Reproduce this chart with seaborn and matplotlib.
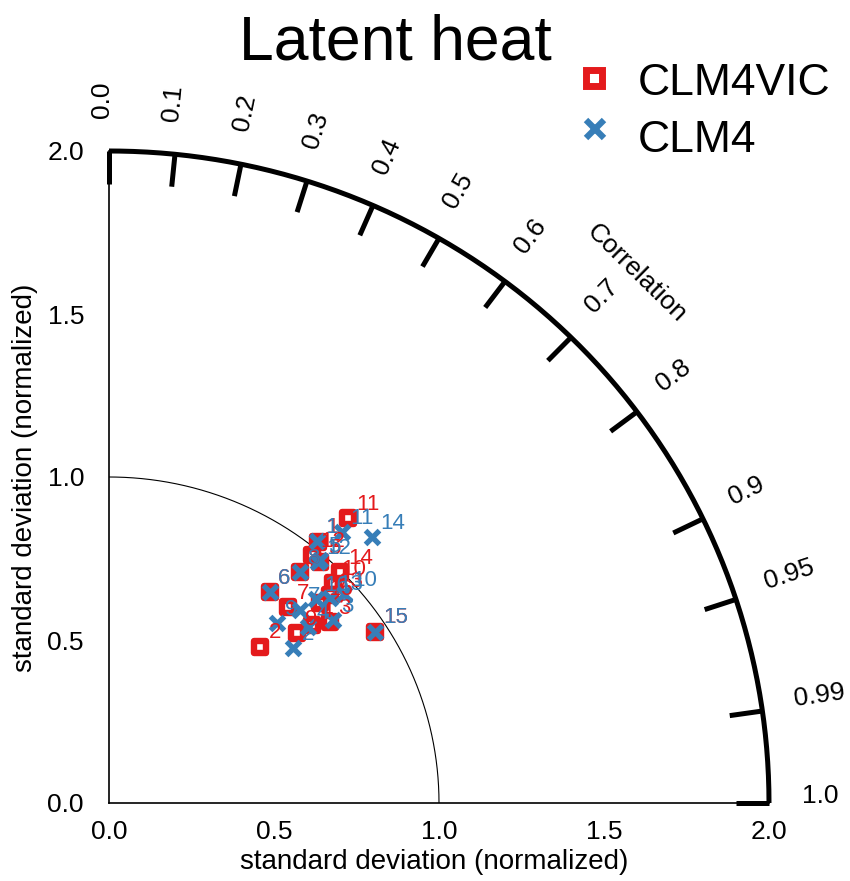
import numpy as np
import pandas as pd
import matplotlib
matplotlib.use("Agg")
import matplotlib.pyplot as plt
from matplotlib.lines import Line2D
import seaborn as sns

# Site numbers and normalized statistics for the two model versions
sites = list(range(1, 17))
vic_std = [1.021, 0.663, 0.870, 0.822, 0.977, 0.810, 0.810, 0.915,
           0.772, 0.957, 1.135, 0.978, 0.925, 0.996, 0.962, 0.886]
vic_corr = [0.620, 0.691, 0.770, 0.748, 0.654, 0.602, 0.670, 0.633,
            0.738, 0.709, 0.638, 0.629, 0.724, 0.703, 0.838, 0.722]
clm_std = [1.021, 0.733, 0.881, 0.809, 0.982, 0.810, 0.828, 0.915,
           0.751, 0.958, 1.090, 0.973, 0.919, 1.141, 0.962, 0.886]
clm_corr = [0.617, 0.761, 0.771, 0.745, 0.651, 0.602, 0.699, 0.633,
            0.678, 0.743, 0.648, 0.651, 0.729, 0.699, 0.838, 0.708]

corr_marks = [0.0, 0.1, 0.2, 0.3, 0.4, 0.5, 0.6, 0.7, 0.8, 0.9, 0.95, 0.99, 1.0]
std_ticks = [0.0, 0.5, 1.0, 1.5, 2.0]
std_labels = ["0.0", "0.5", "1.0", "1.5", "2.0"]

RED = "#e41a1c"
BLUE = "#377eb8"
STD_MAX = 2.0

sns.set_theme(style="white")
plt.rcParams["font.family"] = ["Liberation Sans", "DejaVu Sans"]


def polar_xy(std, corr):
    std = np.asarray(std, dtype=float)
    corr = np.asarray(corr, dtype=float)
    return std * corr, std * np.sqrt(1.0 - corr ** 2)


vx, vy = polar_xy(vic_std, vic_corr)
cx, cy = polar_xy(clm_std, clm_corr)
df_vic = pd.DataFrame({"site": sites, "x": vx, "y": vy})
df_clm = pd.DataFrame({"site": sites, "x": cx, "y": cy})

W, H = 850, 881
fig = plt.figure(figsize=(W / 100, H / 100), dpi=100)
ax = fig.add_axes([109 / W, 78 / H, 660 / W, 652 / H])
ax.set_xlim(0, STD_MAX)
ax.set_ylim(0, STD_MAX)
ax.set_facecolor("white")

# axes frame: only the two straight edges
for side in ("top", "right"):
    ax.spines[side].set_visible(False)
for side in ("left", "bottom"):
    ax.spines[side].set_color("black")
    ax.spines[side].set_linewidth(1.2)

ax.set_xticks(std_ticks)
ax.set_xticklabels(std_labels)
ax.set_yticks(std_ticks)
ax.set_yticklabels(std_labels)
ax.tick_params(axis="x", direction="in", length=5, width=1, pad=12,
               labelsize=19, colors="black")
ax.tick_params(axis="y", direction="out", length=5, width=1, pad=13,
               labelsize=19, colors="black")
ax.grid(False)

# outer correlation arc and reference std = 1 arc
th = np.linspace(0, np.pi / 2, 300)
ax.plot(STD_MAX * np.cos(th), STD_MAX * np.sin(th), color="black", lw=3.6,
        clip_on=False, solid_capstyle="butt", zorder=3)
ax.plot(np.cos(th), np.sin(th), color="black", lw=0.8, zorder=1)

# correlation ticks and labels
for c in corr_marks:
    t = np.arccos(c)
    ax.plot([1.9 * np.cos(t), STD_MAX * np.cos(t)],
            [1.9 * np.sin(t), STD_MAX * np.sin(t)],
            color="black", lw=3.6, solid_capstyle="butt", clip_on=False, zorder=3)
    lab = f"{c:.1f}" if abs(round(c, 1) - c) < 1e-9 else f"{c:.2f}"
    ax.text(2.1 * np.cos(t), 2.1 * np.sin(t), lab, rotation=np.degrees(t),
            rotation_mode="anchor", ha="left", va="baseline", fontsize=19,
            color="black", clip_on=False)

tc = np.radians(45.5)
ax.text(2.28 * np.cos(tc), 2.28 * np.sin(tc), "Correlation",
        rotation=np.degrees(tc) - 90, rotation_mode="anchor",
        ha="center", va="center", fontsize=19, color="black")

# model points
sns.scatterplot(data=df_vic, x="x", y="y", ax=ax, marker="s", s=72,
                color="white", edgecolor=RED, linewidth=4.6, zorder=4,
                legend=False, clip_on=False)
sns.scatterplot(data=df_clm, x="x", y="y", ax=ax, marker="x", s=100,
                color=BLUE, linewidth=3.8, zorder=5, legend=False, clip_on=False)

for d, col, z in ((df_vic, RED, 6), (df_clm, BLUE, 7)):
    for _, row in d.iterrows():
        ax.annotate(str(int(row["site"])), (row["x"], row["y"]),
                    xytext=(6, 10), textcoords="offset points",
                    ha="left", va="center", fontsize=16, color=col, zorder=z)

ax.set_xlabel("")
ax.set_ylabel("")
fig.text(434 / W, 1 - 862 / H, "standard deviation (normalized)",
         ha="center", va="center", fontsize=20, color="black")
fig.text(25 / W, 1 - 478 / H, "standard deviation (normalized)",
         ha="center", va="center", rotation=90, fontsize=20, color="black")

# title and legend
fig.text(395 / W, 1 - 60 / H, "Latent heat", ha="center", va="baseline",
         fontsize=45, color="black")
fig.add_artist(Line2D([594 / W], [1 - 78 / H], marker="s", ms=12, mew=5,
                      mec=RED, mfc="white", transform=fig.transFigure))
fig.text(638 / W, 1 - 95 / H, "CLM4VIC", ha="left", va="baseline",
         fontsize=32, color="black")
fig.add_artist(Line2D([595 / W], [1 - 129 / H], marker="x", ms=13, mew=4.5,
                      mec=BLUE, transform=fig.transFigure))
fig.text(638 / W, 1 - 152 / H, "CLM4", ha="left", va="baseline",
         fontsize=32, color="black")

fig.savefig("out.png", dpi=100, facecolor="white")
